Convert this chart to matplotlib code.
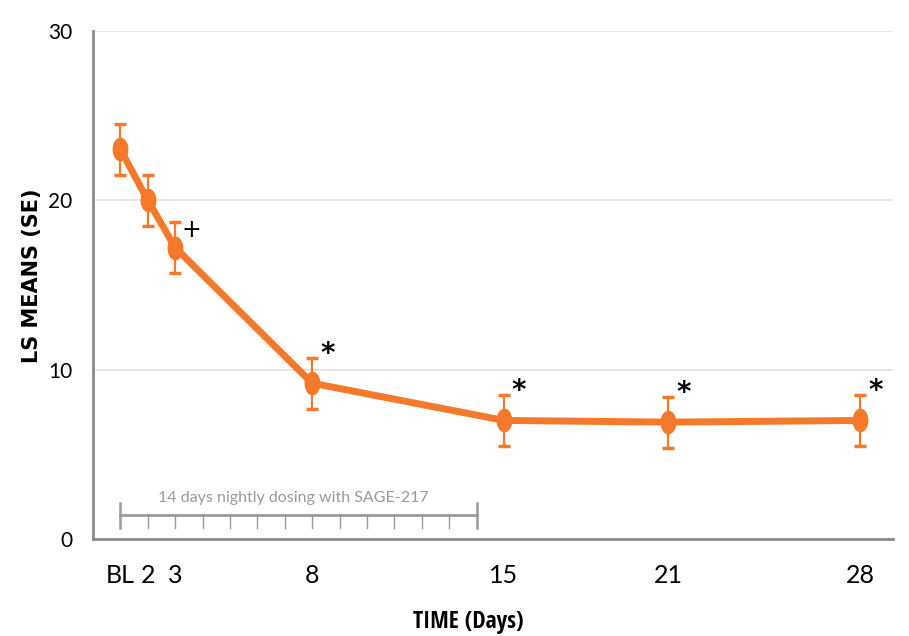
import matplotlib.pyplot as plt
from matplotlib import font_manager
from matplotlib.path import Path
import numpy as np

# LS means by visit day (BL plotted at day 1)
days = [1, 2, 3, 8, 15, 21, 28]
day_labels = ["BL", "2", "3", "8", "15", "21", "28"]
ls_means = [23.0, 20.0, 17.2, 9.2, 7.0, 6.9, 7.0]
se = [1.5, 1.5, 1.5, 1.5, 1.5, 1.5, 1.5]
marks = ["", "", "+", "*", "*", "*", "*"]

dosing_start, dosing_end = 1, 14
dosing_text = "14 days nightly dosing with SAGE-217"

orange = "#F5792A"

# condensed bold face for the axis title, plain narrow-ish face elsewhere
names = {f.name for f in font_manager.fontManager.ttflist}
cond_fam = "Open Sans Condensed" if "Open Sans Condensed" in names else "DejaVu Sans"
plain = ["Lato", "DejaVu Sans"]

# tall oval marker
t = np.linspace(0, 2 * np.pi, 60)
oval = Path(np.column_stack([0.65 * np.cos(t), np.sin(t)]))

fig = plt.figure(figsize=(9.09, 6.36), dpi=100)
ax = fig.add_axes([0.1023, 0.1525, 0.88, 0.799])

ax.errorbar(days, ls_means, yerr=se, color=orange, lw=5, marker=oval,
            markersize=16, ecolor=orange, elinewidth=1.6, capsize=4.5,
            capthick=2.5, zorder=3)

for d, m, s in zip(days, ls_means, marks):
    if not s:
        continue
    if s == "+":
        ax.annotate(s, (d, m), xytext=(11.5, 13), textcoords="offset points",
                    ha="center", va="center", fontsize=17, family="DejaVu Sans")
    else:
        ax.annotate(s, (d, m), xytext=(11, 21), textcoords="offset points",
                    ha="center", va="center", fontsize=20, fontweight="bold",
                    family="DejaVu Sans")

# dosing period bracket
bar_y = 1.42
gray = "#9a9a9a"
ax.plot([dosing_start, dosing_end], [bar_y, bar_y], color=gray, lw=2, zorder=2)
for d in range(dosing_start, dosing_end + 1):
    if d in (dosing_start, dosing_end):
        ax.plot([d, d], [0.65, 2.1], color=gray, lw=1.8)
    else:
        ax.plot([d, d], [0.65, bar_y], color=gray, lw=1)
ax.text((dosing_start + dosing_end) / 2 - 0.2, 2.45, dosing_text, color=gray,
        ha="center", va="center", fontsize=11.5, family=plain)

ax.set_xlim(0, 29.2)
ax.set_ylim(0, 30)
ax.set_yticks([0, 10, 20, 30])
ax.set_xticks(days)
ax.set_xticklabels(day_labels)
ax.tick_params(axis="x", length=0, pad=18, labelsize=18)
ax.tick_params(axis="y", length=0, pad=15, labelsize=15)
for lab in ax.get_xticklabels() + ax.get_yticklabels():
    lab.set_family(plain)

ax.grid(axis="y", color="#e4e4e4", lw=1.3)
ax.set_axisbelow(True)
for side in ["top", "right"]:
    ax.spines[side].set_visible(False)
for side in ["left", "bottom"]:
    ax.spines[side].set_color("#8a8a8a")
    ax.spines[side].set_linewidth(2)

fig.text(0.035, 0.567, "LS MEANS (SE)", rotation=90, ha="center", va="center",
         fontsize=15, fontweight="bold", family="DejaVu Sans")
fig.text(0.515, 0.013, "TIME (Days)", ha="center", va="baseline",
         fontsize=17, fontweight="bold", family=[cond_fam, "DejaVu Sans"],
         stretch="condensed")

fig.savefig("out.png", dpi=100)
